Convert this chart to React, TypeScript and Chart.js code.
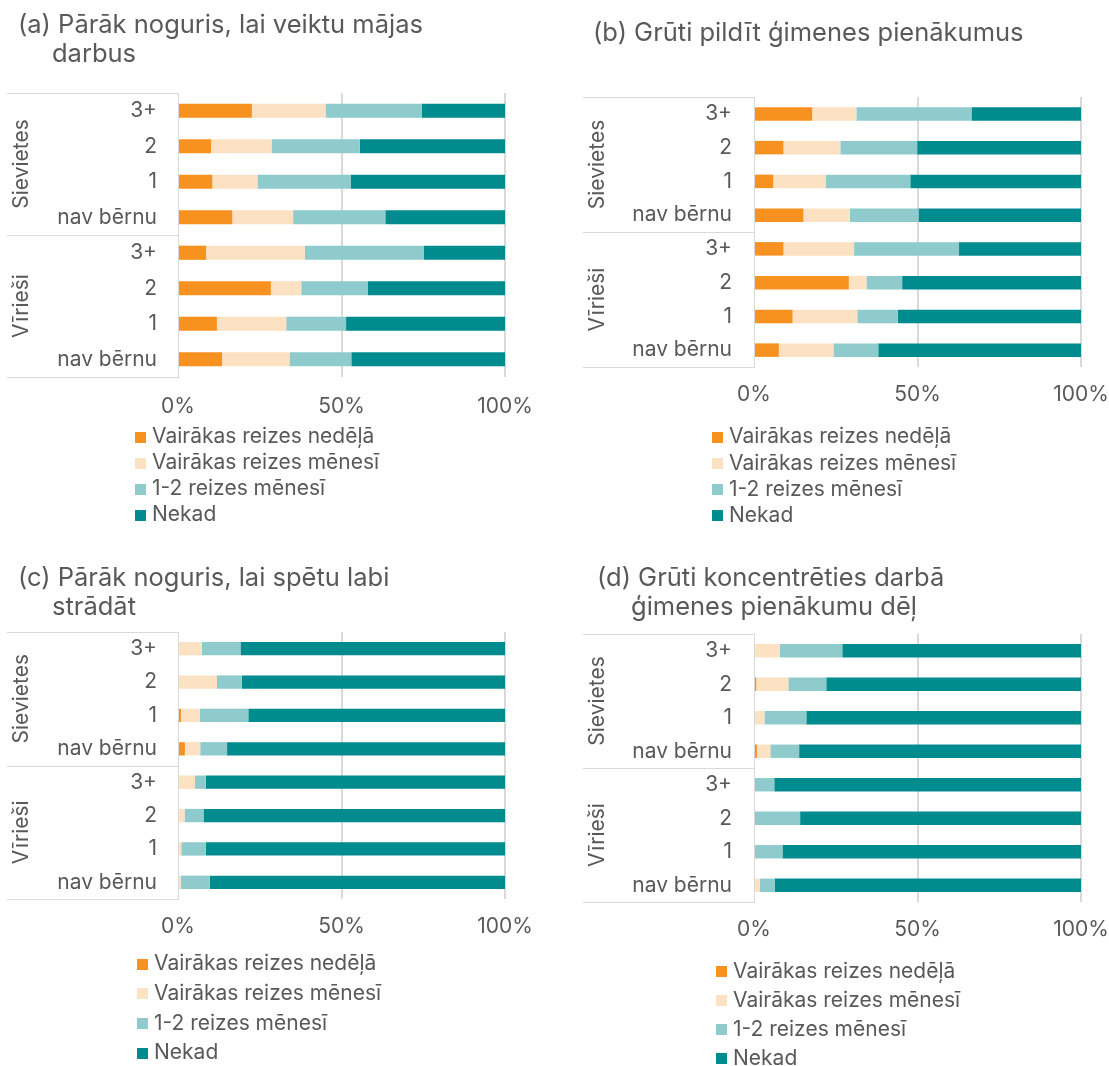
import React, { useEffect, useRef } from 'react';
import { Chart, registerables } from 'chart.js';

Chart.register(...registerables);

// ---------- data ----------
const seriesLabels = ['Vairākas reizes nedēļā', 'Vairākas reizes mēnesī', '1-2 reizes mēnesī', 'Nekad'];
const seriesColors = ['#F79221', '#FDE1C3', '#8FCBCC', '#008C8F'];
const subCategories = ['3+', '2', '1', 'nav bērnu', '3+', '2', '1', 'nav bērnu'];
const groups = ['Sievietes', 'Vīrieši'];
const xTickLabels = ['0%', '50%', '100%'];

const titleA = ['(a) Pārāk noguris, lai veiktu mājas', 'darbus'];
const titleB = ['(b) Grūti pildīt ģimenes pienākumus'];
const titleC = ['(c) Pārāk noguris, lai spētu labi', 'strādāt'];
const titleD = ['(d) Grūti koncentrēties darbā', 'ģimenes pienākumu dēļ'];

// order: Sievietes 3+, 2, 1, nav bērnu, Vīrieši 3+, 2, 1, nav bērnu
const aWeekly = [22.6, 10.1, 10.5, 16.6, 8.6, 28.4, 11.9, 13.5];
const aMonthly = [22.5, 18.5, 13.8, 18.6, 30.2, 9.3, 21.2, 20.6];
const aRare = [29.4, 27.0, 28.6, 28.2, 36.3, 20.4, 18.3, 18.9];
const aNever = [25.5, 44.4, 47.1, 36.6, 24.9, 41.9, 48.6, 47.0];

const bWeekly = [17.8, 9.0, 5.9, 15.1, 9.0, 29.0, 11.8, 7.6];
const bMonthly = [13.5, 17.4, 16.0, 14.2, 21.6, 5.4, 19.8, 16.7];
const bRare = [35.2, 23.5, 25.9, 21.0, 32.1, 10.9, 12.4, 13.7];
const bNever = [33.5, 50.1, 52.2, 49.7, 37.3, 54.7, 56.0, 62.0];

const cWeekly = [0, 0, 0.9, 2.1, 0, 0, 0, 0];
const cMonthly = [7.3, 11.9, 5.8, 4.7, 5.2, 2.0, 1.0, 0.8];
const cRare = [11.8, 7.6, 14.8, 8.2, 3.3, 5.8, 7.5, 8.9];
const cNever = [80.9, 80.5, 78.5, 85.0, 91.5, 92.2, 91.5, 90.3];

const dWeekly = [0, 0.7, 0, 0.9, 0, 0, 0, 0];
const dMonthly = [7.9, 9.8, 3.2, 4.1, 0, 0, 0, 1.8];
const dRare = [19.1, 11.6, 12.8, 8.8, 6.2, 14.1, 8.7, 4.6];
const dNever = [73.0, 77.9, 84.0, 86.2, 93.8, 85.9, 91.3, 93.6];

// ---------- style ----------
const TEXT = '#595959';
const LINE = '#d9d9d9';
const FONT = 'Inter, "Noto Sans", sans-serif';
const TITLE_SIZE = 25.5;
const AXIS_SIZE = 21;
const LEGEND_SIZE = 21;
const TITLE_INDENT = 34;

type Layout = {
  left: number; top: number; w: number; h: number;
  padTop: number; padRight: number; padBottom: number;
  yAxisWidth: number; yTickPad: number; xAxisHeight: number; xTickPad: number;
  titleX: number; titleY: number; titleLH: number;
  boxLeft: number; groupX: number;
  legSqX: number; legTextX: number; legY: number; legStep: number;
};

const panels: { title: string[]; values: number[][]; L: Layout }[] = [
  {
    title: titleA,
    values: [aWeekly, aMonthly, aRare, aNever],
    L: { left: 0, top: 0, w: 555, h: 530, padTop: 93, padRight: 50, padBottom: 113, yAxisWidth: 178, yTickPad: 21, xAxisHeight: 40, xTickPad: 17,
      titleX: 18, titleY: 25, titleLH: 29, boxLeft: 7, groupX: 22, legSqX: 135, legTextX: 152, legY: 437, legStep: 26 },
  },
  {
    title: titleB,
    values: [bWeekly, bMonthly, bRare, bNever],
    L: { left: 555, top: 0, w: 554, h: 530, padTop: 97, padRight: 28, padBottom: 123, yAxisWidth: 199, yTickPad: 22, xAxisHeight: 40, xTickPad: 15,
      titleX: 38, titleY: 33, titleLH: 29, boxLeft: 28, groupX: 43, legSqX: 157, legTextX: 174, legY: 437, legStep: 26.3 },
  },
  {
    title: titleC,
    values: [cWeekly, cMonthly, cRare, cNever],
    L: { left: 0, top: 530, w: 555, h: 536, padTop: 102, padRight: 50, padBottom: 127, yAxisWidth: 178, yTickPad: 21, xAxisHeight: 40, xTickPad: 15,
      titleX: 18, titleY: 48, titleLH: 29, boxLeft: 7, groupX: 22, legSqX: 137, legTextX: 154, legY: 434, legStep: 29.7 },
  },
  {
    title: titleD,
    values: [dWeekly, dMonthly, dRare, dNever],
    L: { left: 555, top: 530, w: 554, h: 536, padTop: 104, padRight: 28, padBottom: 124, yAxisWidth: 199, yTickPad: 22, xAxisHeight: 40, xTickPad: 15,
      titleX: 42, titleY: 48, titleLH: 29, boxLeft: 28, groupX: 43, legSqX: 161, legTextX: 178, legY: 441.7, legStep: 29 },
  },
];

function Panel({ title, values, L }: { title: string[]; values: number[][]; L: Layout }) {
  const ref = useRef<HTMLCanvasElement | null>(null);

  useEffect(() => {
    if (!ref.current) return;
    const decor = {
      id: 'decor',
      afterDraw(chart: any) {
        const { ctx, chartArea } = chart;
        ctx.save();
        // title
        ctx.fillStyle = TEXT;
        ctx.font = `${TITLE_SIZE}px ${FONT}`;
        ctx.textBaseline = 'middle';
        ctx.textAlign = 'left';
        title.forEach((ln, i) => ctx.fillText(ln, L.titleX + (i ? TITLE_INDENT : 0), L.titleY + i * L.titleLH));

        // multi-level category box
        const ys = chart.scales.y;
        const mid = (ys.getPixelForValue(3) + ys.getPixelForValue(4)) / 2;
        const top = chartArea.top;
        const bottom = chartArea.bottom;
        ctx.strokeStyle = LINE;
        ctx.lineWidth = 1;
        [top, mid, bottom].forEach((y: number) => {
          const yy = Math.round(y) + 0.5;
          ctx.beginPath();
          ctx.moveTo(L.boxLeft, yy);
          ctx.lineTo(chartArea.left, yy);
          ctx.stroke();
        });
        ctx.font = `${AXIS_SIZE}px ${FONT}`;
        ctx.fillStyle = TEXT;
        ctx.textAlign = 'center';
        groups.forEach((g, gi) => {
          const cy = gi === 0 ? (top + mid) / 2 : (mid + bottom) / 2;
          ctx.save();
          ctx.translate(L.groupX, cy);
          ctx.rotate(-Math.PI / 2);
          ctx.fillText(g, 0, 0);
          ctx.restore();
        });

        // legend
        ctx.font = `${LEGEND_SIZE}px ${FONT}`;
        ctx.textAlign = 'left';
        chart.data.datasets.forEach((ds: any, i: number) => {
          const y = L.legY + i * L.legStep;
          ctx.fillStyle = ds.backgroundColor;
          ctx.fillRect(L.legSqX, Math.round(y - 5.5), 11, 11);
          ctx.fillStyle = TEXT;
          ctx.fillText(ds.label, L.legTextX, y);
        });
        ctx.restore();
      },
    };

    const chart = new Chart(ref.current, {
      type: 'bar',
      data: {
        labels: subCategories,
        datasets: seriesLabels.map((label, i) => ({
          label,
          data: values[i],
          backgroundColor: seriesColors[i],
          borderWidth: 0,
          barPercentage: 0.4,
          categoryPercentage: 1,
        })),
      },
      options: {
        indexAxis: 'y',
        responsive: false,
        animation: false,
        layout: { padding: { top: L.padTop, right: L.padRight, bottom: L.padBottom, left: 0 } },
        plugins: { legend: { display: false }, tooltip: { enabled: false }, title: { display: false } },
        scales: {
          x: {
            type: 'linear',
            stacked: true,
            min: 0,
            max: 100,
            ticks: {
              stepSize: 50,
              color: TEXT,
              font: { family: FONT, size: AXIS_SIZE },
              padding: L.xTickPad,
              maxRotation: 0,
              callback: (_v: any, idx: number) => xTickLabels[idx],
            },
            grid: {
              drawTicks: false,
              lineWidth: 2,
              color: (c: any) => (c.index === 0 ? 'rgba(0,0,0,0)' : LINE),
            },
            border: { display: false },
            afterFit: (s: any) => {
              s.height = L.xAxisHeight;
              s.paddingLeft = 0;
              s.paddingRight = 0;
            },
          },
          y: {
            type: 'category',
            stacked: true,
            ticks: {
              color: TEXT,
              font: { family: FONT, size: AXIS_SIZE },
              padding: L.yTickPad,
              autoSkip: false,
            },
            grid: { display: false, drawTicks: false },
            border: { display: true, color: LINE, width: 1 },
            afterFit: (s: any) => {
              s.width = L.yAxisWidth;
              s.paddingTop = 0;
              s.paddingBottom = 0;
            },
          },
        },
      } as any,
      plugins: [decor],
    });
    return () => chart.destroy();
  }, []);

  return (
    <canvas
      ref={ref}
      width={L.w}
      height={L.h}
      style={{ position: 'absolute', left: L.left, top: L.top, width: L.w, height: L.h, display: 'block' }}
    />
  );
}

export default function App() {
  return (
    <div style={{ position: 'absolute', left: 0, top: 0, width: 1109, height: 1066, background: '#ffffff', overflow: 'hidden' }}>
      {panels.map((p, i) => (
        <Panel key={i} title={p.title} values={p.values} L={p.L} />
      ))}
    </div>
  );
}
